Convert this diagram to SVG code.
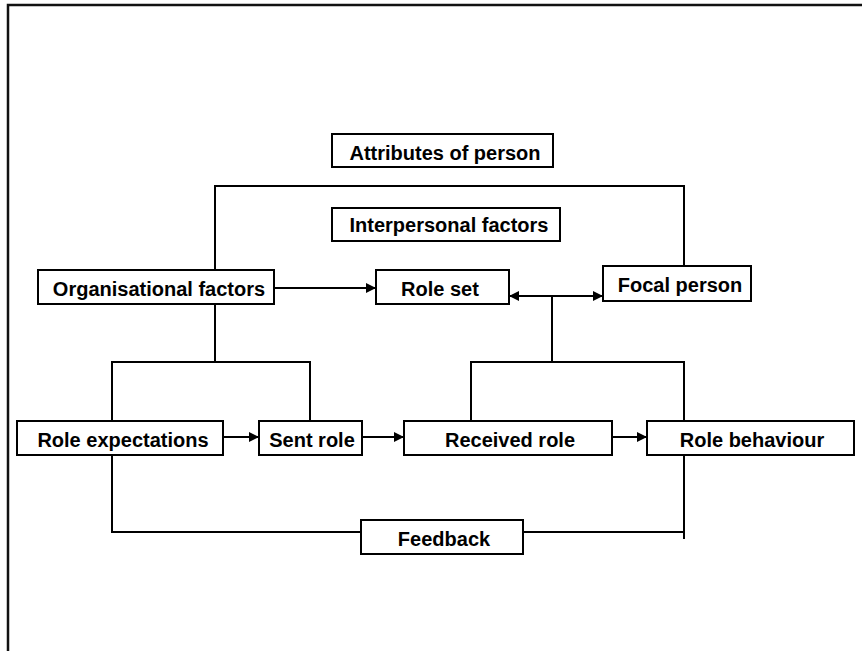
<svg xmlns="http://www.w3.org/2000/svg" width="862" height="651" viewBox="0 0 862 651">
  <style>
    .box { fill: #ffffff; stroke: #000000; stroke-width: 2; }
    .lbl { font-family: "Liberation Sans", Arial, sans-serif; font-weight: bold; font-size: 20px; fill: #000000; text-anchor: middle; }
    .wire { fill: none; stroke: #000000; stroke-width: 2; }
    .frame { fill: none; stroke: #111111; stroke-width: 2.5; }
  </style>
  <defs>
    <marker id="head" viewBox="0 0 10 10" refX="10" refY="5" markerWidth="5" markerHeight="5" orient="auto-start-reverse" markerUnits="strokeWidth">
      <path d="M0,0 L10,5 L0,10 z" fill="#000000"/>
    </marker>
  </defs>

  <rect width="862" height="651" fill="#ffffff"/>
  <!-- page frame, open to the right and bottom -->
  <path class="frame" d="M8,651 V5 H862"/>

  <g id="connectors">
    <!-- organisational factors to focal person over the top -->
    <path class="wire" d="M215,270 V186 H684 V266"/>
    <!-- organisational factors to role set -->
    <path class="wire" d="M274,288 H376" marker-end="url(#head)"/>
    <!-- role set and focal person, both ways -->
    <path class="wire" d="M509,296 H603" marker-start="url(#head)" marker-end="url(#head)"/>
    <!-- organisational factors fan-out -->
    <path class="wire" d="M215,304 V362"/>
    <path class="wire" d="M112,421 V362 H310 V421"/>
    <!-- role set fan-out -->
    <path class="wire" d="M552,296 V362"/>
    <path class="wire" d="M471,421 V362 H684 V421"/>
    <!-- main flow -->
    <path class="wire" d="M223,437 H259" marker-end="url(#head)"/>
    <path class="wire" d="M362,437 H404" marker-end="url(#head)"/>
    <path class="wire" d="M612,437 H647" marker-end="url(#head)"/>
    <!-- feedback loop -->
    <path class="wire" d="M112,456 V532 H684"/>
    <path class="wire" d="M684,456 V539"/>
  </g>

  <g id="attributes-of-person">
    <rect class="box" x="332" y="134" width="221" height="33"/>
    <text class="lbl" x="445" y="160">Attributes of person</text>
  </g>
  <g id="interpersonal-factors">
    <rect class="box" x="332" y="208" width="228" height="33"/>
    <text class="lbl" x="449" y="232">Interpersonal factors</text>
  </g>
  <g id="organisational-factors">
    <rect class="box" x="38" y="270" width="236" height="34"/>
    <text class="lbl" x="159" y="296">Organisational factors</text>
  </g>
  <g id="role-set">
    <rect class="box" x="376" y="270" width="133" height="34"/>
    <text class="lbl" x="440" y="296">Role set</text>
  </g>
  <g id="focal-person">
    <rect class="box" x="603" y="266" width="148" height="35"/>
    <text class="lbl" x="680" y="292">Focal person</text>
  </g>
  <g id="role-expectations">
    <rect class="box" x="17" y="421" width="206" height="34"/>
    <text class="lbl" x="123" y="447">Role expectations</text>
  </g>
  <g id="sent-role">
    <rect class="box" x="259" y="421" width="103" height="34"/>
    <text class="lbl" x="312" y="447">Sent role</text>
  </g>
  <g id="received-role">
    <rect class="box" x="404" y="421" width="208" height="34"/>
    <text class="lbl" x="510" y="447">Received role</text>
  </g>
  <g id="role-behaviour">
    <rect class="box" x="647" y="421" width="207" height="34"/>
    <text class="lbl" x="752" y="447">Role behaviour</text>
  </g>
  <g id="feedback">
    <rect class="box" x="361" y="520" width="162" height="34"/>
    <text class="lbl" x="444" y="546">Feedback</text>
  </g>
</svg>
